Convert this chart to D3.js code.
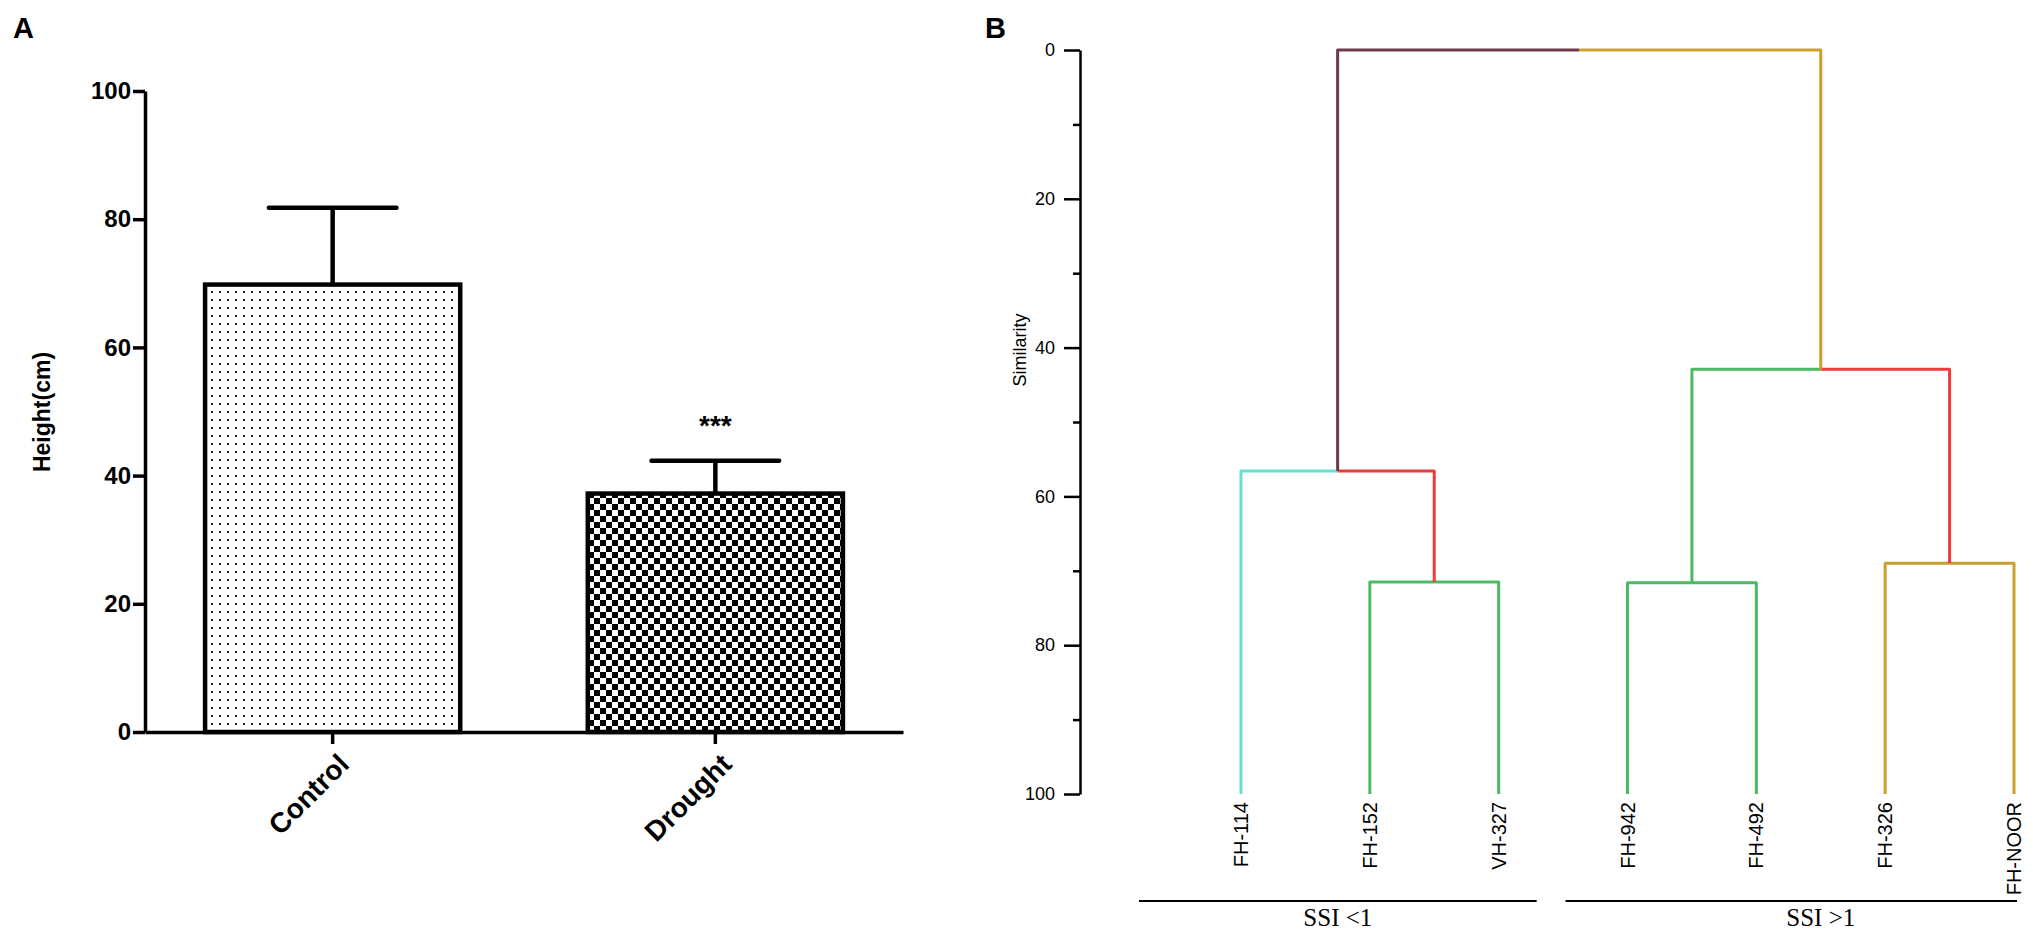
<!DOCTYPE html>
<html>
<head>
<meta charset="utf-8">
<script src="https://cdn.jsdelivr.net/npm/d3@7"></script>
<style>
  html, body { margin: 0; padding: 0; background: #fff; }
  svg { display: block; }
</style>
</head>
<body>
<svg id="chart" width="2033" height="937" font-family="Liberation Sans, Arial, sans-serif"></svg>
<script>
// ---------- Panel A data ----------
const groups = ["Control", "Drought"];
const heightMeans = [69.8, 37.2];
const heightErrors = [12.0, 5.1];
const significance = ["", "***"];
const heightTicks = [0, 20, 40, 60, 80, 100];

// ---------- Panel B data ----------
const leaves = ["FH-114", "FH-152", "VH-327", "FH-942", "FH-492", "FH-326", "FH-NOOR"];
const clusterIds    = ["n1", "n2", "n3", "n4", "n5", "root"];
const clusterLeft   = ["FH-152", "FH-114", "FH-942", "FH-326", "n3", "n2"];
const clusterRight  = ["VH-327", "n1", "FH-492", "FH-NOOR", "n4", "n5"];
const clusterHeight = [71.5, 56.6, 71.6, 69.0, 42.9, 0];
const leftColor     = ["#4cb963", "#66e0d2", "#4cb963", "#c9a02e", "#4cb963", "#6f3a48"];
const rightColor    = ["#4cb963", "#ee3b3b", "#4cb963", "#c9a02e", "#ee3b3b", "#c9a02e"];
const similarityTicks = [0, 20, 40, 60, 80, 100];
const similarityMinor = [10, 30, 50, 70, 90];
const ssiGroups = ["SSI <1", "SSI >1"];
const ssiFirst = ["FH-114", "FH-942"];
const ssiLast  = ["VH-327", "FH-NOOR"];

const svg = d3.select("#chart");
const defs = svg.append("defs");
const SANS = "'Liberation Sans', Arial, sans-serif";
const SERIF = "'Liberation Serif', 'Times New Roman', serif";

// patterns
const dots = defs.append("pattern").attr("id", "dots").attr("patternUnits", "userSpaceOnUse")
  .attr("width", 8).attr("height", 8);
dots.append("rect").attr("width", 8).attr("height", 8).attr("fill", "#fff");
dots.append("rect").attr("x", 3).attr("y", 3).attr("width", 2).attr("height", 2).attr("fill", "#222");

const checker = defs.append("pattern").attr("id", "checker").attr("patternUnits", "userSpaceOnUse")
  .attr("width", 12).attr("height", 12);
checker.append("rect").attr("width", 12).attr("height", 12).attr("fill", "#fff");
checker.append("rect").attr("x", 0).attr("y", 0).attr("width", 6).attr("height", 6).attr("fill", "#000");
checker.append("rect").attr("x", 6).attr("y", 6).attr("width", 6).attr("height", 6).attr("fill", "#000");

const fills = ["url(#dots)", "url(#checker)"];

// ---------- Panel A ----------
const yA = d3.scaleLinear().domain([0, 100]).range([732, 91]);
const xA = d3.scaleBand().domain(groups).range([145, 903]).paddingInner(1/3).paddingOuter(0.157);

svg.append("text").attr("x", 13).attr("y", 38).style("font-family", SANS)
  .attr("font-size", 29).attr("font-weight", "bold").text("A");

const gA = svg.append("g");
gA.selectAll("rect.bar").data(groups).join("rect").attr("class", "bar")
  .attr("x", d => xA(d)).attr("width", xA.bandwidth())
  .attr("y", (d, i) => yA(heightMeans[i])).attr("height", (d, i) => yA(0) - yA(heightMeans[i]))
  .attr("fill", (d, i) => fills[i]).attr("stroke", "#000").attr("stroke-width", 4.5);
gA.selectAll("line.err").data(groups).join("line").attr("class", "err")
  .attr("x1", d => xA(d) + xA.bandwidth() / 2).attr("x2", d => xA(d) + xA.bandwidth() / 2)
  .attr("y1", (d, i) => yA(heightMeans[i])).attr("y2", (d, i) => yA(heightMeans[i] + heightErrors[i]))
  .attr("stroke", "#000").attr("stroke-width", 4.5);
gA.selectAll("line.cap").data(groups).join("line").attr("class", "cap")
  .attr("x1", d => xA(d) + xA.bandwidth() * 0.25).attr("x2", d => xA(d) + xA.bandwidth() * 0.75)
  .attr("y1", (d, i) => yA(heightMeans[i] + heightErrors[i])).attr("y2", (d, i) => yA(heightMeans[i] + heightErrors[i]))
  .attr("stroke", "#000").attr("stroke-width", 4.5).attr("stroke-linecap", "round");
gA.selectAll("text.sig").data(groups).join("text").attr("class", "sig")
  .attr("x", d => xA(d) + xA.bandwidth() / 2)
  .attr("y", (d, i) => yA(heightMeans[i] + heightErrors[i]) - 26)
  .attr("text-anchor", "middle").attr("font-size", 28).attr("font-weight", "bold")
  .style("font-family", SANS)
  .text((d, i) => significance[i]);

// y axis
const axA = svg.append("g").attr("transform", "translate(145,0)")
  .call(d3.axisLeft(yA).tickValues(heightTicks).tickSize(12).tickSizeOuter(0).tickPadding(2));
axA.select(".domain").attr("stroke-width", 3.5);
axA.selectAll(".tick line").attr("stroke-width", 3.5);
axA.selectAll(".tick text").attr("font-size", 24).attr("font-weight", "bold")
  .style("font-family", SANS).attr("fill", "#000");

// x axis
const axX = svg.append("g").attr("transform", "translate(0,732)")
  .call(d3.axisBottom(xA).tickSize(12).tickSizeOuter(0));
axX.select(".domain").attr("stroke-width", 3.5);
axX.selectAll(".tick line").attr("stroke-width", 3.5);
axX.selectAll(".tick text").attr("font-size", 28).attr("font-weight", "bold")
  .style("font-family", SANS).attr("fill", "#000")
  .attr("text-anchor", "end").attr("dy", null).attr("y", 0)
  .attr("transform", "translate(18,34) rotate(-45)");

svg.append("text").attr("transform", "translate(50,412) rotate(-90)")
  .attr("text-anchor", "middle").attr("font-size", 23).attr("font-weight", "bold")
  .style("font-family", SANS).text("Height(cm)");

// ---------- Panel B ----------
const yB = d3.scaleLinear().domain([0, 100]).range([50, 794]);
const xB = d3.scalePoint().domain(leaves).range([1241, 2014]);
const axisBx = 1080;

svg.append("text").attr("x", 985).attr("y", 38).style("font-family", SANS)
  .attr("font-size", 29).attr("font-weight", "bold").text("B");

const axB = svg.append("g").attr("transform", `translate(${axisBx},0)`)
  .call(d3.axisLeft(yB).tickValues(similarityTicks).tickSize(16).tickSizeOuter(0).tickPadding(9));
axB.select(".domain").attr("stroke-width", 2.5);
axB.selectAll(".tick line").attr("stroke-width", 2.5);
axB.selectAll(".tick text").attr("font-size", 18).attr("fill", "#000").style("font-family", SANS);
const axBm = svg.append("g").attr("transform", `translate(${axisBx},0)`)
  .call(d3.axisLeft(yB).tickValues(similarityMinor).tickSize(7).tickFormat(""));
axBm.select(".domain").remove();
axBm.selectAll(".tick line").attr("stroke-width", 2.5);

svg.append("text").attr("transform", `translate(${axisBx - 54},350) rotate(-90)`)
  .attr("text-anchor", "middle").attr("font-size", 18).style("font-family", SANS).text("Similarity");

// node positions
const pos = {};
leaves.forEach(l => { pos[l] = { x: xB(l), h: 100 }; });
clusterIds.forEach((id, i) => {
  const a = pos[clusterLeft[i]], b = pos[clusterRight[i]];
  pos[id] = { x: (a.x + b.x) / 2, h: clusterHeight[i] };
});
const links = [];
clusterIds.forEach((id, i) => {
  links.push({ p: id, c: clusterLeft[i], color: leftColor[i] });
  links.push({ p: id, c: clusterRight[i], color: rightColor[i] });
});
svg.append("g").selectAll("path").data(links).join("path")
  .attr("d", d => `M${pos[d.p].x},${yB(pos[d.p].h)}H${pos[d.c].x}V${yB(pos[d.c].h)}`)
  .attr("fill", "none").attr("stroke", d => d.color).attr("stroke-width", 3)
  .attr("stroke-linejoin", "round");

// leaf labels
svg.append("g").selectAll("text").data(leaves).join("text")
  .attr("transform", d => `translate(${xB(d) + 7},${yB(100) + 8}) rotate(-90)`)
  .attr("text-anchor", "end").attr("font-size", 20).style("font-family", SANS).text(d => d);

// SSI group lines
const gS = svg.append("g");
const lineStart = i => xB(ssiFirst[i]) - (i === 0 ? 102 : 62);
const lineEnd = i => xB(ssiLast[i]) + (i === 0 ? 38 : 3);
gS.selectAll("line").data(ssiGroups).join("line")
  .attr("x1", (d, i) => lineStart(i)).attr("x2", (d, i) => lineEnd(i))
  .attr("y1", 901).attr("y2", 901).attr("stroke", "#000").attr("stroke-width", 2);
gS.selectAll("text").data(ssiGroups).join("text")
  .attr("x", (d, i) => i === 0 ? (lineStart(i) + lineEnd(i)) / 2 : (xB(ssiFirst[i]) + xB(ssiLast[i])) / 2)
  .attr("y", 926).attr("text-anchor", "middle")
  .style("font-family", SERIF).attr("font-size", 25)
  .text(d => d);
</script>
</body>
</html>
